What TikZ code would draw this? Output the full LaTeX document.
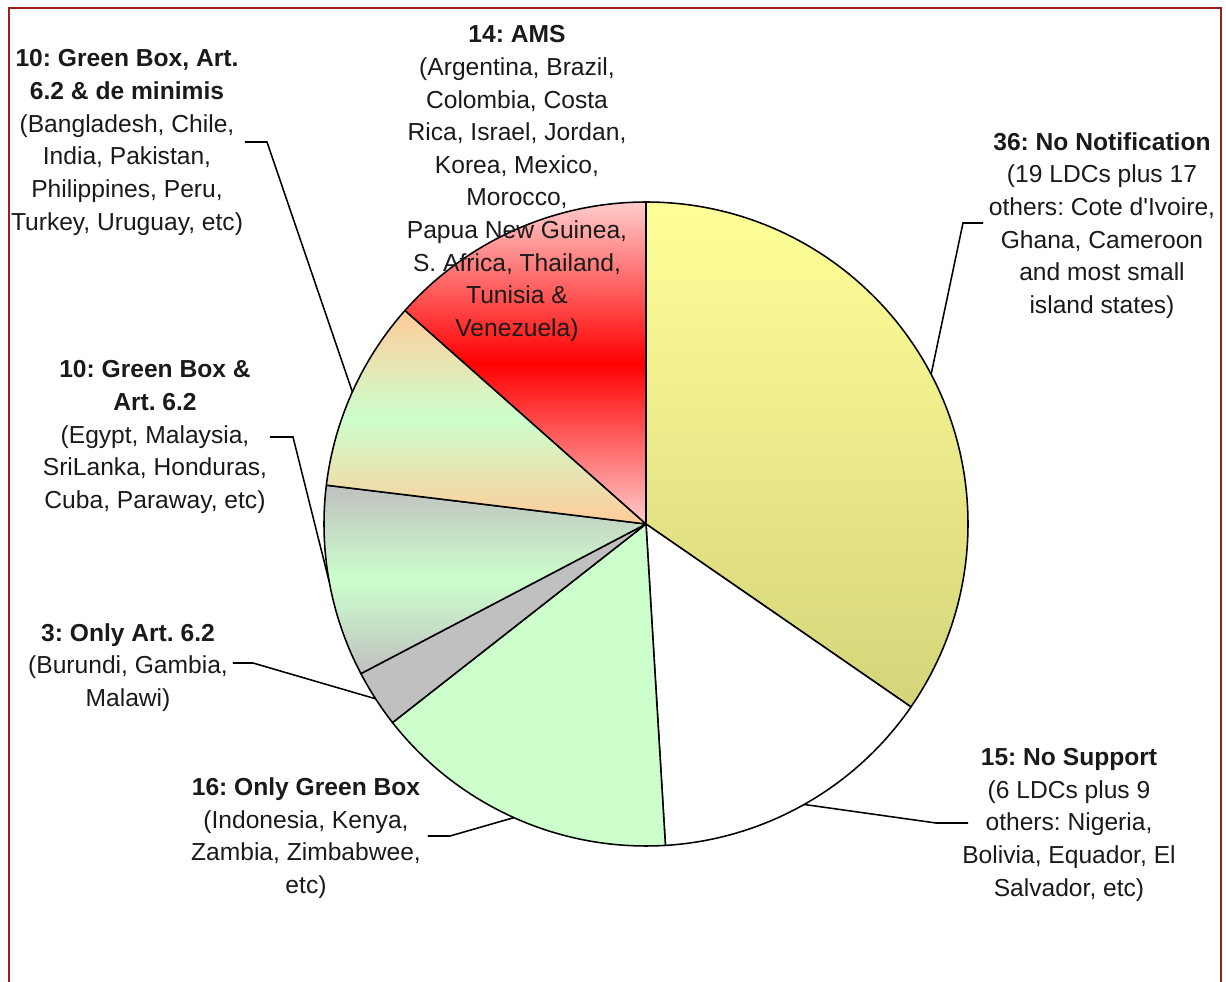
\documentclass[tikz,border=0pt]{standalone}
\usepackage{fontspec}
\setmainfont{Liberation Sans}
\frenchspacing
\definecolor{ink}{HTML}{1A1A1A}
\definecolor{frameRed}{HTML}{9C1F1F}
\definecolor{lemon}{HTML}{FFFF99}
\definecolor{lemondark}{HTML}{D4D47A}
\definecolor{mint}{HTML}{CCFFCC}
\definecolor{silver}{HTML}{C0C0C0}
\definecolor{peach}{HTML}{FFCC99}
\definecolor{blush}{HTML}{FFCCCC}
\definecolor{signal}{HTML}{FF0000}

\begin{document}
\begin{tikzpicture}[font=\fontsize{17.5}{23.2}\selectfont,text=ink,
  slice/.style={draw=black,line width=1.1pt,line join=round},
  leader/.style={draw=black,line width=1.1pt},
  lbl/.style={align=center,inner sep=0pt},
  notifslice/.style={top color=lemon,bottom color=lemondark},
  nosupslice/.style={fill=white},
  onlygbslice/.style={fill=mint},
  onlyartslice/.style={fill=silver},
  gbartslice/.style={top color=silver,bottom color=silver,middle color=mint},
  gbdeminslice/.style={top color=peach,bottom color=peach,middle color=mint},
  amsslice/.style={top color=blush,bottom color=blush,middle color=signal}]
  \useasboundingbox (-16.15,-11.425) rectangle (14.5,13.1);
  \draw[frameRed,line width=1.8pt] (-15.925,-11.8) |- (14.375,12.9) -- (14.375,-11.8);
  \def\r{8.05}
  % slices, clockwise from the top (36,15,16,3,10,10,14 of 104)
  \foreach \a/\b/\s in {90/-34.615/notifslice,-34.615/-86.538/nosupslice,
      -86.538/-141.923/onlygbslice,-141.923/-152.308/onlyartslice,
      -152.308/-186.923/gbartslice,-186.923/-221.538/gbdeminslice,
      -221.538/-270/amsslice}{
    \draw[slice,\s] (0,0) -- (\a:\r) arc[start angle=\a,end angle=\b,radius=\r] -- cycle;
  }
  % where the leaders meet the rim
  \coordinate (rimNotif) at (27.69:\r);
  \coordinate (rimNoSup) at (-60.58:\r);
  \coordinate (rimOnlyGB) at (-114.23:\r);
  \coordinate (rimOnlyArt) at (-147.12:\r);
  \coordinate (rimGBArt) at (-169.62:\r);
  \coordinate (rimGBDemin) at (-204.23:\r);

  \node[lbl] (lblAMS) at (-3.225,8.5125)
    {\textbf{14: AMS}\\(Argentina, Brazil,\\Colombia, Costa\\Rica, Israel, Jordan,\\Korea, Mexico,\\Morocco,\\Papua New Guinea,\\S. Africa, Thailand,\\Tunisia \&\\Venezuela)};
  \node[lbl] (lblNotif) at (11.4,7.4625)
    {\textbf{36: No Notification}\\(19 LDCs plus 17\\others: Cote d\textquotesingle Ivoire,\\Ghana, Cameroon\\and most small\\island states)};
  \node[lbl] (lblGBDemin) at (-12.975,9.5375)
    {\textbf{10: Green Box, Art.}\\\textbf{6.2 \& de minimis}\\(Bangladesh, Chile,\\India, Pakistan,\\Philippines, Peru,\\Turkey, Uruguay, etc)};
  \node[lbl] (lblGBArt) at (-12.275,2.175)
    {\textbf{10: Green Box \&}\\\textbf{Art. 6.2}\\(Egypt, Malaysia,\\SriLanka, Honduras,\\Cuba, Paraway, etc)};
  \node[lbl] (lblOnlyArt) at (-12.95,-3.583)
    {\textbf{3: Only Art. 6.2}\\(Burundi, Gambia,\\Malawi)};
  \node[lbl] (lblOnlyGB) at (-8.5,-7.85)
    {\textbf{16: Only Green Box}\\(Indonesia, Kenya,\\Zambia, Zimbabwee,\\etc)};
  \node[lbl] (lblNoSup) at (10.575,-7.52)
    {\textbf{15: No Support}\\(6 LDCs plus 9\\others: Nigeria,\\Bolivia, Equador, El\\Salvador, etc)};

  % leaders
  \coordinate (tNotif) at (8.425,7.525);
  \coordinate (tNoSup) at (8.05,-7.475);
  \coordinate (tOnlyGB) at (-5.45,-7.8);
  \coordinate (tOnlyArt) at (-10.325,-3.475);
  \coordinate (tGBArt) at (-9.4,2.175);
  \coordinate (tGBDemin) at (-10.025,9.55);
  \draw[leader] (tNotif) -- ++(-0.5,0) -- (rimNotif);
  \draw[leader] (tNoSup) -- ++(-0.8,0) -- (rimNoSup);
  \draw[leader] (tOnlyGB) -- ++(0.55,0) -- (rimOnlyGB);
  \draw[leader] (tOnlyArt) -- ++(0.5,0) -- (rimOnlyArt);
  \draw[leader] (tGBArt) -- ++(0.575,0) -- (rimGBArt);
  \draw[leader] (tGBDemin) -- ++(0.55,0) -- (rimGBDemin);
\end{tikzpicture}
\end{document}
